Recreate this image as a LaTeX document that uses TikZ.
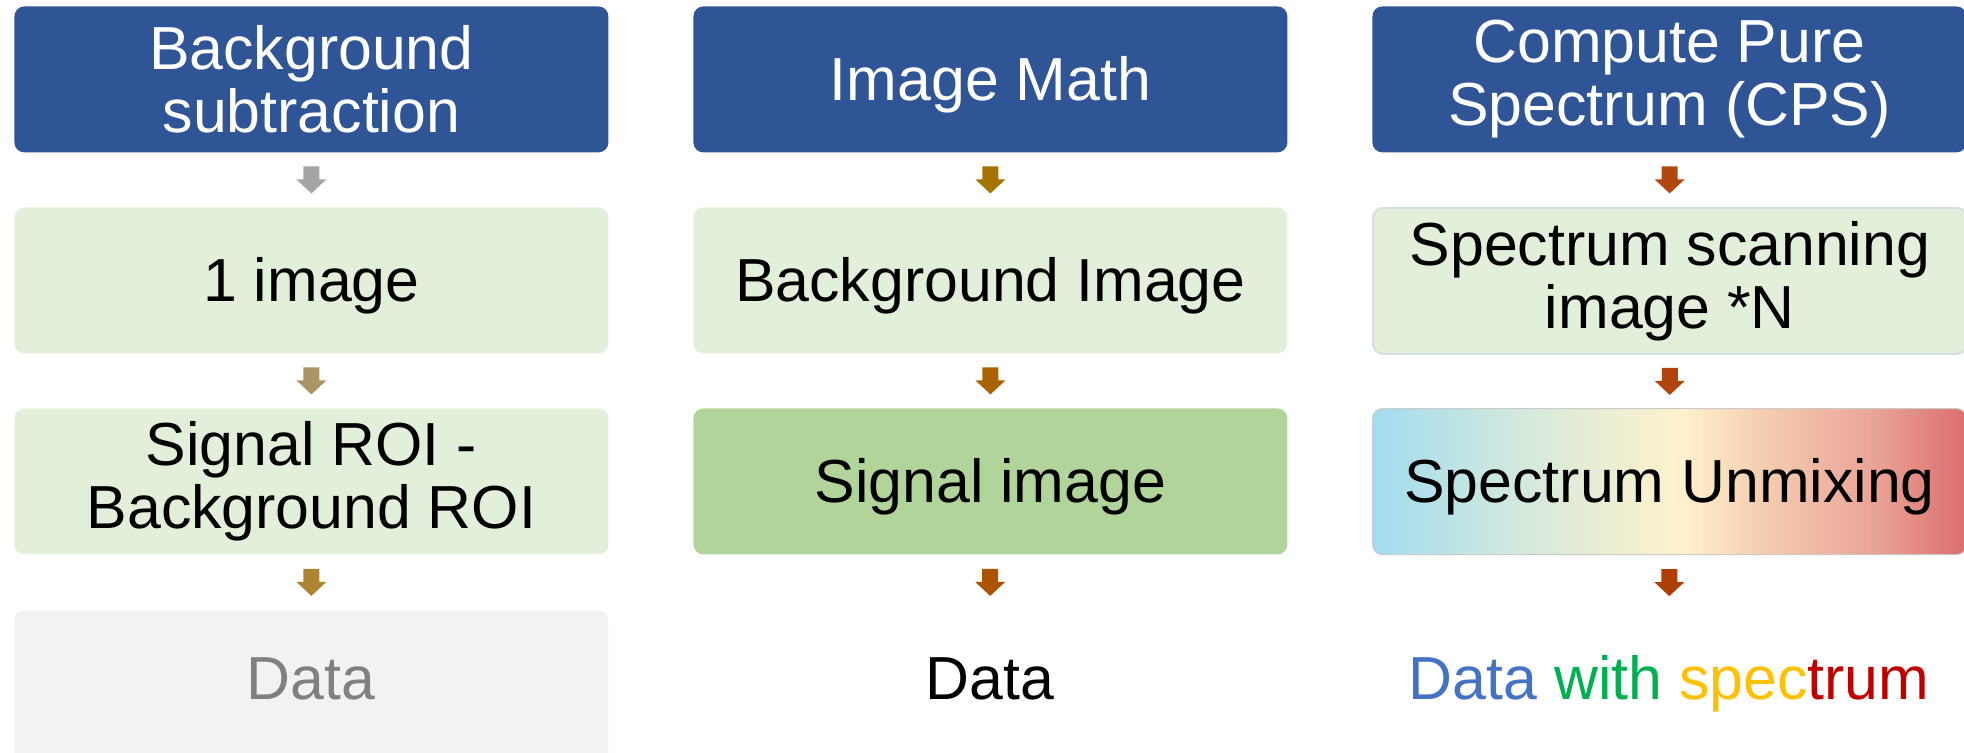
\documentclass[tikz,border=0pt]{standalone}
\usepackage{fontspec}
\setmainfont{Liberation Sans}
\usetikzlibrary{calc}
\definecolor{hdrblue}{HTML}{2F5597}
\definecolor{lgreen}{HTML}{E2EFDA}
\definecolor{mgreen}{HTML}{B1D49A}
\definecolor{lgrey}{HTML}{F2F2F2}
\definecolor{dgreytext}{HTML}{808080}
\definecolor{bordblue}{HTML}{D6DCE4}
\definecolor{bordgrey}{HTML}{CACACA}
\definecolor{aA}{HTML}{A5A5A5}
\definecolor{aB}{HTML}{AA9566}
\definecolor{aC}{HTML}{AD8432}
\definecolor{aD}{HTML}{A67200}
\definecolor{aE}{HTML}{A86200}
\definecolor{aF}{HTML}{AC5300}
\definecolor{aG}{HTML}{B2480F}
\definecolor{aH}{HTML}{B0440C}
\definecolor{aI}{HTML}{AE3E06}
\definecolor{tblue}{HTML}{4472C4}
\definecolor{tgreen}{HTML}{00B050}
\definecolor{tyellow}{HTML}{FFC000}
\definecolor{tred}{HTML}{C00000}
\definecolor{g0}{HTML}{A2DCF0}
\definecolor{g1}{HTML}{D3E9DC}
\definecolor{g2}{HTML}{FFF2CC}
\definecolor{g3}{HTML}{F5CFB2}
\definecolor{g4}{HTML}{E9A295}
\definecolor{g5}{HTML}{DB6D6D}
\pgfdeclarehorizontalshading{specgrad}{100bp}{color(0bp)=(g0); color(25bp)=(g0); color(37.5bp)=(g1); color(51bp)=(g2); color(57.5bp)=(g3); color(67.5bp)=(g4); color(75bp)=(g5); color(100bp)=(g5)}
\newcommand\flowarrow[3]{\fill[#3] ($(#1.south)!0.5!(#2)$) ++(-8,-13.5) -- ++(16,0) -- ++(0,13) -- ++(7,0) -- ++(-15,14) -- ++(-15,-14) -- ++(7,0) -- cycle;}
\begin{document}
\begin{tikzpicture}[x=0.5pt,y=-0.5pt,
  font=\fontsize{30.4}{31.5}\selectfont,
  box/.style={rounded corners=5pt, minimum width=297pt, minimum height=73pt,
    inner sep=0pt, align=center, anchor=north west},
  oneline/.style={text depth=0.1em},
  hdr/.style={box, fill=hdrblue, text=white},
  lbox/.style={box, fill=lgreen},
  datatext/.style={anchor=base, inner sep=0pt}]
\useasboundingbox (0,0) rectangle (1964,752);
\clip (0,0) rectangle (1964,752);
% column 1
\node[hdr] (h1) at (14,6) {Background\\subtraction};
\node[lbox, oneline] (b1) at (14,207) {1 image};
\node[lbox] (c1) at (14,408) {Signal ROI -\\Background ROI};
\node[box, fill=lgrey, minimum height=80pt] (d1) at (14,610) {};
\node[datatext, text=dgreytext] (t1) at (311,699) {Data};
% column 2
\node[hdr, oneline] (h2) at (693,6) {Image Math};
\node[lbox, oneline] (b2) at (693,207) {Background Image};
\node[box, oneline, fill=mgreen] (c2) at (693,408) {Signal image};
\coordinate (d2) at (990,610);
\node[datatext] (t2) at (990,699) {Data};
% column 3
\node[hdr] (h3) at (1372,6) {Compute Pure\\Spectrum (CPS)};
\node[lbox, draw=bordblue, line width=0.9pt] (b3) at (1372,207) {Spectrum scanning\\image *N};
\node[box, oneline, shading=specgrad, draw=bordgrey, line width=0.6pt] (c3) at (1372,408) {Spectrum Unmixing};
\coordinate (d3) at (1669,610);
\node[datatext] (t3) at (1669,699) {{\color{tblue}Data} {\color{tgreen}with} {\color{tyellow}spec}{\color{tred}trum}};
% arrows
\flowarrow{h1}{b1.north}{aA}
\flowarrow{b1}{c1.north}{aB}
\flowarrow{c1}{d1.north}{aC}
\flowarrow{h2}{b2.north}{aD}
\flowarrow{b2}{c2.north}{aE}
\flowarrow{c2}{d2}{aF}
\flowarrow{h3}{b3.north}{aG}
\flowarrow{b3}{c3.north}{aH}
\flowarrow{c3}{d3}{aI}
\end{tikzpicture}
\end{document}
